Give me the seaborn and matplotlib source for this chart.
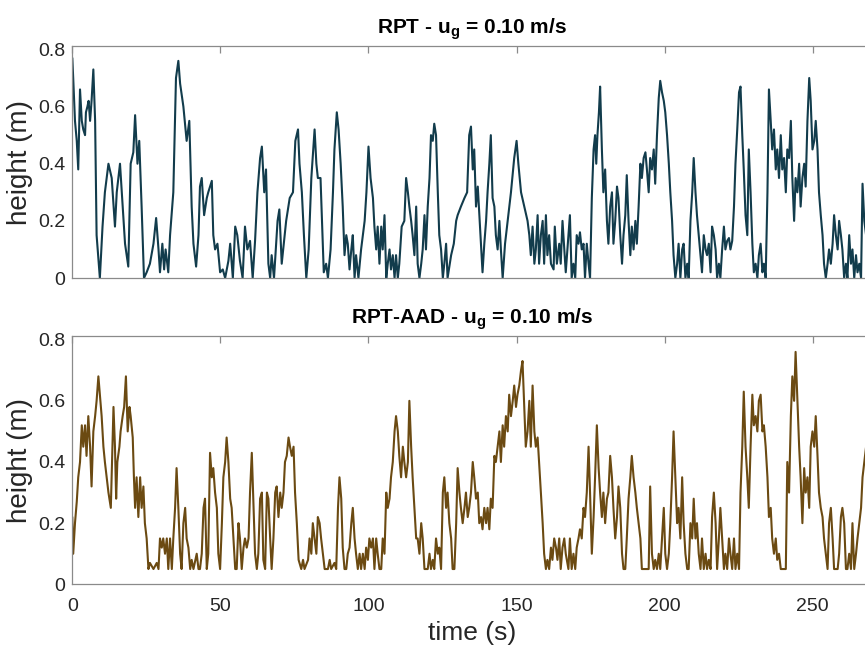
import matplotlib
matplotlib.use("Agg")
import matplotlib.pyplot as plt
import seaborn as sns
import numpy as np

# ---------------- data ----------------
rpt_time = [
    0.0, 0.3, 0.9, 1.5, 2.0, 2.6, 3.2, 3.7, 4.3, 4.6,
    5.1, 5.5, 6.0, 6.5, 7.1, 7.7, 8.2, 9.3, 10.2, 11.0,
    12.2, 13.3, 14.4, 15.0, 16.1, 17.0, 17.8, 18.9, 19.7, 20.6,
    21.2, 22.0, 22.6, 23.4, 24.2, 25.1, 26.2, 27.4, 28.3, 29.1,
    29.6, 30.4, 31.0, 31.5, 32.4, 33.0, 34.1, 35.0, 35.8, 36.4,
    37.5, 38.6, 39.5, 40.3, 40.9, 41.8, 42.6, 43.1, 43.7, 44.5,
    45.4, 45.9, 47.1, 47.6, 48.2, 49.0, 49.9, 50.8, 51.6, 52.7,
    53.3, 54.2, 55.0, 55.7, 56.6, 57.5, 58.3, 59.1, 60.0, 60.9,
    61.7, 62.5, 63.4, 64.0, 64.8, 65.4, 66.2, 66.8, 67.3, 68.1,
    69.3, 69.9, 70.7,
    72.2, 73.4, 74.5, 75.3, 76.2, 76.7, 77.5, 78.2, 79.0, 79.8,
    80.7, 81.8, 82.4, 82.9, 83.8, 84.3, 84.9, 85.7, 86.3, 87.2,
    88.0, 88.5, 89.3, 89.9, 90.6, 91.3, 91.9, 92.5, 93.0, 93.6,
    94.2, 94.7, 95.3, 95.8, 96.6, 97.5, 98.7, 99.3, 100.0, 100.7,
    101.5, 102.0, 102.6, 103.1, 103.7, 104.3, 104.8, 105.4, 106.0, 106.5,
    107.1, 107.6, 108.2, 108.8, 109.3, 109.9, 110.4, 111.2, 112.1, 112.7,
    113.3, 113.8, 114.4, 114.9, 115.5, 116.1, 116.6, 117.2, 117.8, 118.3,
    118.9, 119.4, 120.0, 120.6, 121.1, 121.7, 122.2, 122.8, 123.4, 123.9,
    124.5, 125.1, 125.6, 126.2, 126.7, 127.9, 128.8, 129.6, 130.1, 131.2,
    132.4, 133.3, 134.0, 134.6, 135.2, 135.7, 136.3, 136.9, 137.8, 138.5,
    139.1, 139.7, 140.2, 140.8, 141.3, 141.9, 142.5, 143.0, 143.6, 144.2,
    144.7, 145.3, 146.1, 147.0, 148.1, 149.2, 150.0, 150.6, 151.5, 152.6,
    153.7, 154.3, 154.8, 155.4, 156.0, 156.5, 157.1, 157.6, 158.2, 158.8,
    159.3, 159.9, 160.4, 161.0, 161.6, 162.5, 162.9, 163.6, 164.4, 164.9,
    165.5, 166.1, 166.6,
    168.0, 168.6, 169.2, 169.8, 170.3, 170.9, 171.4, 172.0, 172.6, 173.1,
    173.7, 174.3, 174.8, 175.4, 176.0, 176.5, 176.9, 177.3, 177.8, 178.2,
    178.8, 179.3, 179.9, 180.5, 181.0, 181.6, 182.2, 182.7, 183.3, 183.9,
    184.4, 185.0, 185.6, 186.1, 186.7, 187.2, 187.8, 188.4, 188.9, 189.5,
    190.1, 190.6, 191.2, 191.8, 192.3, 192.9, 193.5, 194.0, 194.6, 195.1,
    195.7, 196.3, 196.8, 197.4, 198.0, 198.5, 199.1, 199.7, 200.2, 200.8,
    201.4, 201.9, 202.5, 203.0, 203.6, 204.2, 204.7, 205.3, 205.9, 206.4,
    207.0, 207.6, 208.1, 208.7, 209.3, 209.8, 210.4, 210.9, 211.5, 212.1,
    212.6, 213.2, 213.8, 214.3, 214.9, 215.5, 216.0, 216.6, 217.2, 217.7,
    218.3, 218.8, 219.4, 220.0, 220.5, 221.1, 221.7, 222.2, 222.8, 223.4,
    223.9, 224.5, 225.1, 225.6, 226.2, 226.7, 227.3, 227.9, 228.4, 229.0,
    229.6, 230.1, 230.7, 231.3, 231.8, 232.4, 233.0, 233.5, 234.1, 234.7,
    235.2, 235.8, 236.3, 236.9, 237.5, 238.0, 238.6, 239.2, 239.7, 240.3,
    240.9, 241.4, 242.0, 242.6, 243.1, 243.7, 244.2, 244.8, 245.4, 245.9,
    246.5, 247.1, 247.6, 248.2, 248.8, 249.3, 249.9, 250.5, 251.0, 251.6,
    252.1, 252.7, 253.3, 253.8, 254.4, 255.0, 255.5, 256.1, 256.7, 257.2,
    257.8, 258.4, 258.9, 259.5, 260.0, 260.6, 261.2, 261.7, 262.3, 262.9,
    263.4, 264.0, 264.6, 265.1, 265.7, 266.3, 266.8, 267.4, 268.0, 268.5,
    269.3, 270.0,
]
rpt_height = [
    0.77, 0.70, 0.55, 0.48, 0.38, 0.66, 0.55, 0.52, 0.50, 0.58,
    0.60, 0.62, 0.55, 0.62, 0.73, 0.55, 0.15, 0.00, 0.18, 0.30,
    0.40, 0.35, 0.18, 0.30, 0.40, 0.25, 0.12, 0.04, 0.40, 0.44,
    0.57, 0.40, 0.48, 0.25, 0.00, 0.02, 0.05, 0.12, 0.21, 0.10,
    0.02, 0.12, 0.03, 0.10, 0.02, 0.15, 0.30, 0.70, 0.76, 0.68,
    0.60, 0.48, 0.55, 0.25, 0.12, 0.04, 0.15, 0.32, 0.35, 0.22,
    0.28, 0.30, 0.34, 0.15, 0.10, 0.12, 0.02, 0.03, 0.00, 0.06,
    0.12, 0.00, 0.18, 0.15, 0.06, 0.00, 0.18, 0.10, 0.13, 0.00,
    0.13, 0.30, 0.42, 0.46, 0.30, 0.38, 0.05, 0.00, 0.08, 0.00,
    0.20, 0.24, 0.05,
    0.20, 0.28, 0.30, 0.48, 0.52, 0.40, 0.30, 0.15, 0.00, 0.10,
    0.35, 0.52, 0.40, 0.35, 0.35, 0.20, 0.02, 0.05, 0.00, 0.10,
    0.30, 0.45, 0.58, 0.52, 0.40, 0.25, 0.08, 0.15, 0.12, 0.03,
    0.10, 0.15, 0.00, 0.08, 0.00, 0.10, 0.20, 0.30, 0.46, 0.35,
    0.28, 0.18, 0.10, 0.18, 0.05, 0.18, 0.10, 0.22, 0.00, 0.05,
    0.10, 0.03, 0.08, 0.00, 0.08, 0.00, 0.05, 0.18, 0.20, 0.35,
    0.30, 0.25, 0.20, 0.15, 0.08, 0.25, 0.05, 0.00, 0.05, 0.10,
    0.22, 0.10, 0.25, 0.35, 0.50, 0.48, 0.54, 0.50, 0.30, 0.15,
    0.10, 0.00, 0.05, 0.12, 0.00, 0.08, 0.12, 0.20, 0.22, 0.25,
    0.28, 0.30, 0.50, 0.53, 0.38, 0.45, 0.25, 0.32, 0.15, 0.02,
    0.12, 0.20, 0.30, 0.40, 0.50, 0.28, 0.25, 0.15, 0.10, 0.20,
    0.10, 0.00, 0.12, 0.20, 0.30, 0.42, 0.48, 0.40, 0.30, 0.25,
    0.20, 0.15, 0.08, 0.18, 0.05, 0.10, 0.22, 0.05, 0.15, 0.20,
    0.05, 0.22, 0.08, 0.15, 0.05, 0.03, 0.18, 0.05, 0.12, 0.05,
    0.20, 0.10, 0.02,
    0.22, 0.00, 0.05, 0.00, 0.15, 0.12, 0.16, 0.10, 0.12, 0.00,
    0.12, 0.05, 0.00, 0.28, 0.45, 0.50, 0.40, 0.50, 0.58, 0.67,
    0.45, 0.30, 0.38, 0.20, 0.12, 0.25, 0.30, 0.12, 0.20, 0.32,
    0.28, 0.15, 0.05, 0.15, 0.22, 0.36, 0.20, 0.08, 0.18, 0.10,
    0.20, 0.12, 0.25, 0.40, 0.35, 0.42, 0.44, 0.38, 0.30, 0.42,
    0.38, 0.45, 0.33, 0.50, 0.63, 0.69, 0.65, 0.62, 0.58, 0.50,
    0.40, 0.30, 0.20, 0.08, 0.00, 0.05, 0.12, 0.00, 0.10, 0.12,
    0.00, 0.05, 0.00, 0.20, 0.30, 0.42, 0.30, 0.22, 0.15, 0.08,
    0.02, 0.15, 0.10, 0.08, 0.12, 0.02, 0.18, 0.15, 0.10, 0.00,
    0.05, 0.00, 0.10, 0.18, 0.10, 0.13, 0.14, 0.10, 0.13, 0.25,
    0.40, 0.52, 0.65, 0.67, 0.50, 0.38, 0.22, 0.15, 0.45, 0.30,
    0.12, 0.02, 0.05, 0.00, 0.08, 0.12, 0.02, 0.05, 0.00, 0.30,
    0.66, 0.55, 0.45, 0.52, 0.38, 0.45, 0.35, 0.50, 0.38, 0.42,
    0.30, 0.45, 0.42, 0.55, 0.35, 0.20, 0.35, 0.30, 0.40, 0.25,
    0.35, 0.40, 0.32, 0.55, 0.70, 0.62, 0.45, 0.48, 0.55, 0.45,
    0.30, 0.22, 0.15, 0.05, 0.00, 0.05, 0.10, 0.05, 0.12, 0.22,
    0.15, 0.10, 0.20, 0.15, 0.10, 0.00, 0.05, 0.00, 0.15, 0.05,
    0.10, 0.00, 0.08, 0.02, 0.05, 0.00, 0.33, 0.20, 0.15, 0.25,
    0.30, 0.22,
]

aad_time = [
    0.0, 0.3, 0.9, 1.5, 2.0, 2.6, 3.2, 3.7, 4.3, 4.8,
    5.4, 6.0, 6.5, 7.1, 7.7, 8.2, 8.8, 9.3, 9.9, 10.5,
    11.0, 11.6, 12.2, 13.0, 13.9, 14.4, 14.8, 15.2, 15.9, 16.3,
    17.0, 17.5, 18.1, 18.7, 19.3, 19.7, 20.4, 20.8, 21.2, 21.7,
    22.3, 22.9, 23.4, 24.0, 24.5, 25.1, 25.7, 26.2, 27.4, 28.5,
    29.1, 29.6, 30.2, 30.7, 31.3, 31.9, 32.4, 33.0, 33.6, 34.1,
    34.7, 35.2, 35.8, 36.4, 36.9, 37.5, 38.1, 38.6, 39.2, 39.8,
    40.3, 40.9, 42.0, 42.6, 43.1, 43.7, 44.3, 44.8, 45.4, 45.9,
    46.5, 47.1, 47.6, 48.2, 48.8, 49.3, 49.9, 50.5, 51.0, 51.6,
    52.1, 52.7, 53.3, 53.8, 54.4, 55.0, 55.5, 56.1, 56.6, 57.2,
    57.8, 58.3, 58.9, 59.5, 60.0, 60.6, 61.2, 61.7, 62.3, 62.8,
    63.4, 64.0, 64.5, 65.1, 65.7, 66.2, 66.8, 67.3, 67.9, 68.5,
    69.0, 69.6, 70.2, 70.7, 71.3, 71.8, 72.4, 73.0, 73.5, 74.1,
    74.7, 75.2, 75.8, 76.4,
    77.3, 77.9, 78.4, 79.6, 80.1, 80.7, 81.2, 81.8, 82.4, 82.9,
    83.5, 84.0, 84.6, 85.2, 86.3, 86.9, 87.4, 88.5, 89.1, 89.7,
    90.2, 90.8, 91.3, 91.9, 92.5, 93.0, 93.6, 94.2, 94.7, 95.3,
    95.8, 96.4, 97.0, 97.5, 98.1, 98.7, 99.2, 99.8, 100.3, 100.9,
    101.5, 102.0, 102.6, 103.1, 103.7, 104.3, 104.8, 105.4, 106.0, 106.5,
    107.1, 107.6, 108.2, 108.8, 109.3, 109.9, 110.4, 111.0, 111.6, 112.1,
    112.7, 113.3, 113.8, 114.4, 114.9, 115.5, 116.1, 116.6, 117.2, 117.8,
    118.3, 118.9, 120.0, 120.6, 121.1, 121.7, 122.2, 122.8, 123.4, 123.9,
    124.5, 125.1, 125.6, 126.2, 126.7, 127.3, 127.9, 128.4, 129.0, 129.6,
    130.1, 130.7, 131.2, 131.8, 132.4, 132.9, 133.5, 134.0, 134.6, 135.2,
    135.7, 136.3, 136.9, 137.4, 138.0, 138.5, 139.1, 139.7, 140.2, 140.8,
    141.3, 141.9, 142.5, 143.0, 143.6, 144.2, 144.7, 145.3, 145.8, 146.4,
    147.0, 147.5, 148.1, 148.7, 149.2, 149.8, 150.3, 150.9, 151.5, 152.0,
    152.6, 153.1, 153.7, 154.3, 154.8, 155.4, 156.0, 156.5, 157.1, 157.6,
    158.2, 158.8, 159.3, 159.9, 160.4, 161.0, 161.6, 162.1, 162.7, 163.3,
    163.8, 164.4, 164.9, 165.5, 166.1, 166.6,
    167.5, 168.0, 168.6, 169.2, 169.8, 170.3, 170.9, 171.4, 172.0, 172.6,
    173.1, 173.7, 174.3, 174.8, 175.4, 176.0, 176.5, 177.1, 177.7, 178.2,
    178.8, 179.3, 179.9, 180.5, 181.0, 181.6, 182.2, 182.7, 183.3, 183.9,
    184.4, 185.0, 185.6, 186.1, 186.7, 187.2, 187.8, 188.4, 188.9, 189.5,
    190.1, 190.6, 191.2, 191.8, 192.3, 194.6, 195.1, 195.7, 196.3, 196.8,
    197.4, 198.0, 198.5, 199.1, 199.7, 200.2, 200.8, 201.4, 201.9, 202.5,
    203.0, 203.6, 204.2, 204.7, 205.3, 205.9, 206.4, 207.0, 207.6, 208.1,
    208.7, 209.3, 209.8, 210.4, 210.9, 211.5, 212.1, 212.6, 213.2, 213.8,
    214.3, 214.9, 215.5, 216.0, 216.6, 217.2, 217.7, 218.3, 218.8, 219.4,
    220.0, 220.5, 221.1, 221.7, 222.2, 222.8, 223.4, 223.9, 224.5, 225.1,
    225.6, 226.2, 226.7, 227.3, 227.9, 228.4, 229.0, 229.6, 230.1, 230.7,
    231.3, 231.8, 232.4, 233.0, 233.5, 234.1, 234.7, 235.2, 235.8, 236.3,
    236.9, 237.5, 238.0, 238.6, 239.2, 240.9, 241.4, 242.0, 242.6, 243.1,
    243.7, 244.2, 244.8, 245.4, 245.9, 246.5, 247.1, 247.6, 248.2, 248.8,
    249.3, 249.9, 250.5, 251.0, 251.6, 252.1, 252.7, 253.3, 253.8, 254.4,
    255.0, 255.5, 256.1, 256.7, 257.2, 258.4, 258.9, 259.5, 260.0, 260.6,
    261.2, 261.7, 262.3, 262.9, 263.4, 264.0, 264.6, 265.1, 265.7, 266.3,
    266.8, 267.4, 268.0, 268.5, 269.3, 270.0,
]
aad_height = [
    0.22, 0.10, 0.20, 0.27, 0.35, 0.40, 0.52, 0.45, 0.52, 0.42,
    0.55, 0.45, 0.32, 0.50, 0.55, 0.60, 0.68, 0.62, 0.55, 0.45,
    0.40, 0.35, 0.30, 0.25, 0.58, 0.45, 0.28, 0.40, 0.45, 0.50,
    0.55, 0.58, 0.68, 0.50, 0.58, 0.55, 0.48, 0.35, 0.25, 0.35,
    0.22, 0.35, 0.25, 0.32, 0.20, 0.15, 0.05, 0.07, 0.05, 0.07,
    0.05, 0.15, 0.12, 0.15, 0.10, 0.15, 0.05, 0.15, 0.05, 0.15,
    0.25, 0.38, 0.25, 0.10, 0.05, 0.20, 0.25, 0.15, 0.12, 0.05,
    0.08, 0.05, 0.10, 0.05, 0.05, 0.10, 0.25, 0.28, 0.05, 0.10,
    0.43, 0.35, 0.38, 0.30, 0.25, 0.10, 0.05, 0.20, 0.35, 0.40,
    0.48, 0.40, 0.28, 0.25, 0.15, 0.05, 0.05, 0.20, 0.15, 0.05,
    0.12, 0.15, 0.12, 0.15, 0.30, 0.43, 0.25, 0.10, 0.05, 0.10,
    0.28, 0.30, 0.08, 0.05, 0.30, 0.28, 0.15, 0.05, 0.15, 0.30,
    0.32, 0.22, 0.30, 0.25, 0.30, 0.40, 0.42, 0.48, 0.45, 0.42,
    0.45, 0.30, 0.20, 0.08,
    0.05, 0.08, 0.05, 0.08, 0.15, 0.10, 0.20, 0.15, 0.10, 0.22,
    0.20, 0.15, 0.10, 0.05, 0.05, 0.08, 0.05, 0.07, 0.05, 0.25,
    0.35, 0.28, 0.12, 0.05, 0.05, 0.10, 0.12, 0.20, 0.25, 0.15,
    0.10, 0.05, 0.10, 0.05, 0.10, 0.05, 0.12, 0.08, 0.15, 0.12,
    0.15, 0.05, 0.15, 0.10, 0.05, 0.05, 0.15, 0.10, 0.30, 0.25,
    0.28, 0.35, 0.40, 0.50, 0.55, 0.50, 0.42, 0.35, 0.45, 0.40,
    0.35, 0.40, 0.60, 0.45, 0.35, 0.25, 0.15, 0.15, 0.10, 0.20,
    0.15, 0.05, 0.05, 0.10, 0.05, 0.08, 0.05, 0.15, 0.10, 0.12,
    0.05, 0.30, 0.35, 0.25, 0.30, 0.20, 0.15, 0.05, 0.05, 0.20,
    0.38, 0.30, 0.25, 0.20, 0.25, 0.30, 0.22, 0.25, 0.30, 0.40,
    0.35, 0.28, 0.30, 0.20, 0.22, 0.18, 0.25, 0.20, 0.25, 0.18,
    0.28, 0.25, 0.42, 0.40, 0.45, 0.50, 0.40, 0.52, 0.45, 0.55,
    0.50, 0.62, 0.55, 0.60, 0.65, 0.58, 0.62, 0.65, 0.70, 0.73,
    0.58, 0.45, 0.50, 0.60, 0.45, 0.65, 0.50, 0.45, 0.48, 0.40,
    0.30, 0.20, 0.10, 0.05, 0.08, 0.05, 0.12, 0.08, 0.15, 0.12,
    0.08, 0.15, 0.05, 0.12, 0.15, 0.10,
    0.05, 0.15, 0.05, 0.10, 0.05, 0.12, 0.15, 0.18, 0.15, 0.25,
    0.22, 0.30, 0.45, 0.30, 0.10, 0.22, 0.35, 0.52, 0.38, 0.30,
    0.22, 0.30, 0.20, 0.28, 0.30, 0.42, 0.35, 0.25, 0.15, 0.22,
    0.32, 0.25, 0.10, 0.05, 0.05, 0.15, 0.28, 0.35, 0.42, 0.35,
    0.30, 0.25, 0.20, 0.15, 0.05, 0.05, 0.32, 0.10, 0.05, 0.08,
    0.05, 0.10, 0.05, 0.15, 0.25, 0.10, 0.05, 0.10, 0.20, 0.35,
    0.50, 0.35, 0.20, 0.25, 0.15, 0.35, 0.20, 0.10, 0.05, 0.05,
    0.20, 0.15, 0.28, 0.15, 0.20, 0.10, 0.05, 0.15, 0.05, 0.10,
    0.05, 0.08, 0.05, 0.22, 0.30, 0.20, 0.05, 0.15, 0.25, 0.15,
    0.05, 0.10, 0.05, 0.15, 0.10, 0.05, 0.15, 0.05, 0.10, 0.05,
    0.30, 0.45, 0.63, 0.45, 0.35, 0.25, 0.45, 0.62, 0.52, 0.55,
    0.50, 0.60, 0.62, 0.50, 0.52, 0.45, 0.35, 0.22, 0.25, 0.15,
    0.10, 0.15, 0.08, 0.10, 0.05, 0.05, 0.40, 0.30, 0.55, 0.68,
    0.60, 0.76, 0.60, 0.45, 0.35, 0.20, 0.38, 0.30, 0.35, 0.25,
    0.45, 0.50, 0.45, 0.55, 0.42, 0.30, 0.25, 0.22, 0.15, 0.10,
    0.05, 0.20, 0.25, 0.15, 0.05, 0.05, 0.10, 0.22, 0.25, 0.20,
    0.05, 0.05, 0.10, 0.05, 0.20, 0.05, 0.10, 0.15, 0.20, 0.25,
    0.35, 0.40, 0.45, 0.38, 0.42, 0.38,
]

x_ticks = [0, 50, 100, 150, 200, 250]
x_tick_labels = ["0", "50", "100", "150", "200", "250"]
y_ticks = [0, 0.2, 0.4, 0.6, 0.8]
y_tick_labels = ["0", "0.2", "0.4", "0.6", "0.8"]

top_title = r"RPT - u$_{\mathbf{g}}$ = 0.10 m/s"
bottom_title = r"RPT-AAD - u$_{\mathbf{g}}$ = 0.10 m/s"
x_label = "time (s)"
y_label = "height (m)"

assert len(rpt_time) == len(rpt_height), (len(rpt_time), len(rpt_height))
assert len(aad_time) == len(aad_height), (len(aad_time), len(aad_height))

# ---------------- style ----------------
sns.set_style("white")
plt.rcParams["font.family"] = ["Liberation Sans", "DejaVu Sans"]
plt.rcParams["mathtext.fontset"] = "custom"
plt.rcParams["mathtext.rm"] = "Liberation Sans"
plt.rcParams["mathtext.it"] = "Liberation Sans:italic"
plt.rcParams["mathtext.bf"] = "Liberation Sans:bold"

axis_grey = "#8a8a8a"
text_dark = "#262626"
rpt_color = "#123c4c"
aad_color = "#6b4a12"

fig = plt.figure(figsize=(8.65, 6.61), dpi=100)
ax1 = fig.add_axes([0.0836, 0.5794, 0.9245, 0.3510])
ax2 = fig.add_axes([0.0836, 0.1160, 0.9245, 0.3757])

sns.lineplot(x=rpt_time, y=rpt_height, ax=ax1, color=rpt_color,
             linewidth=1.5, estimator=None, sort=False)
sns.lineplot(x=aad_time, y=aad_height, ax=ax2, color=aad_color,
             linewidth=1.5, estimator=None, sort=False)

for ax, title in ((ax1, top_title), (ax2, bottom_title)):
    ax.set_xlim(0, 270)
    ax.set_ylim(0, 0.812)
    ax.set_xticks(x_ticks)
    ax.set_yticks(y_ticks)
    ax.set_yticklabels(y_tick_labels)
    for s in ax.spines.values():
        s.set_visible(True)
        s.set_color(axis_grey)
        s.set_linewidth(0.9)
    ax.tick_params(axis="both", which="both", direction="in", length=5,
                   width=0.9, color=axis_grey, top=True, right=True,
                   labelsize=14, labelcolor=text_dark)
    ax.tick_params(axis="x", pad=10)
    ax.tick_params(axis="y", pad=5)
    ax.set_ylabel(y_label, fontsize=20, color=text_dark, labelpad=4)
    ax.set_title(title, fontsize=15, fontweight="bold", color="black", pad=9)
    ax.grid(False)

ax1.set_xticklabels([])
ax1.set_xlabel("")
ax2.set_xticklabels(x_tick_labels)
ax2.set_xlabel(x_label, fontsize=19, color=text_dark, labelpad=4)

fig.savefig("out.png", dpi=100)
